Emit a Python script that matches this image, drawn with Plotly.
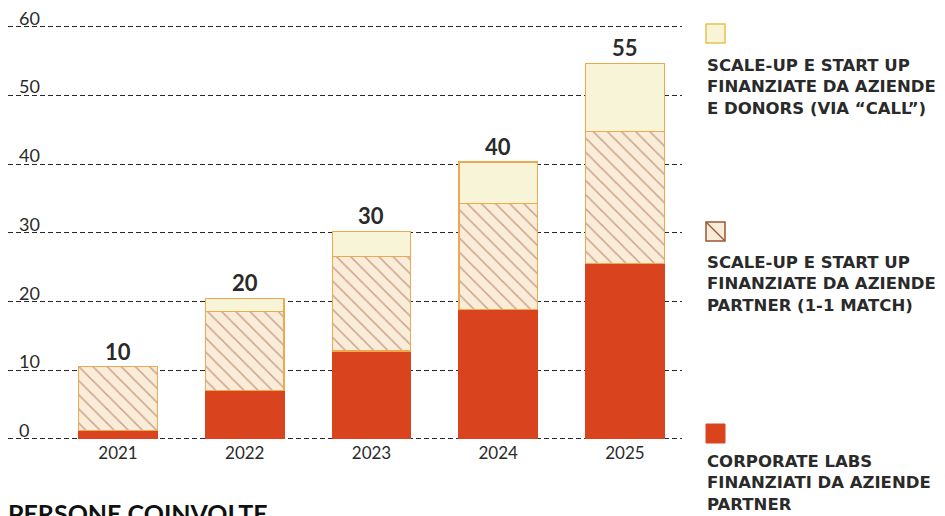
import plotly.graph_objects as go

years = ["2021", "2022", "2023", "2024", "2025"]
corporate_labs = [1.2, 7.0, 12.8, 18.8, 25.5]
match_1_1 = [9.3, 11.5, 13.8, 15.5, 19.3]
via_call = [0.0, 2.0, 3.6, 6.0, 9.9]
total_labels = ["10", "20", "30", "40", "55"]
y_ticks = [0, 10, 20, 30, 40, 50, 60]

legend_texts = [
    "SCALE-UP E START UP<br>FINANZIATE DA AZIENDE<br>E DONORS (VIA “CALL”)",
    "SCALE-UP E START UP<br>FINANZIATE DA AZIENDE<br>PARTNER (1-1 MATCH)",
    "CORPORATE LABS<br>FINANZIATI DA AZIENDE<br>PARTNER",
]
title_text = "PERSONE COINVOLTE"

RED = "#d9441f"
CREAM = "#f8f4d8"
HATCH_BG = "#f9ecd8"
HATCH_FG = "#9c5535"
OUTLINE = "#eea850"
TXT = "#2a2a2a"
FONT = "Lato"
LEG_FONT = "DejaVu Sans"

OFF = 8  # page body margin
W, H = 930, 508
ml, mr, mt, mb = 0, W - (682 - OFF), 5, 75

fig = go.Figure()
fig.add_bar(x=years, y=corporate_labs, name="corporate",
            marker=dict(color=RED, line=dict(color=RED, width=1)))
fig.add_bar(x=years, y=match_1_1, name="match",
            marker=dict(color=HATCH_BG, line=dict(color=OUTLINE, width=1.2),
                        pattern=dict(shape="\\", fgcolor=HATCH_FG, bgcolor=HATCH_BG,
                                     size=10, solidity=0.15, fillmode="overlay")))
fig.add_bar(x=years, y=via_call, name="call",
            marker=dict(color=CREAM, line=dict(color=OUTLINE, width=1.2)))

totals = [a + b + c for a, b, c in zip(corporate_labs, match_1_1, via_call)]
for i, (t, lab) in enumerate(zip(totals, total_labels)):
    fig.add_annotation(x=i, y=t, text=f"<b>{lab}</b>", showarrow=False,
                       yanchor="bottom", yshift=0,
                       font=dict(family=FONT, size=22, color=TXT))

for v in y_ticks:
    fig.add_annotation(xref="paper", x=(17 - OFF) / (W - ml - mr), y=v, text=str(v),
                       showarrow=False, xanchor="left", yanchor="bottom", yshift=-4,
                       font=dict(family=FONT, size=18, color=TXT))


def px_x(p):
    return (p - OFF - ml) / (W - ml - mr)


def px_y(p):
    return 1 - (p - OFF - mt) / (H - mt - mb)


sw = [(24, 43), (222, 241), (424, 443)]
fig.add_shape(type="rect", xref="paper", yref="paper",
              x0=px_x(706), x1=px_x(725), y0=px_y(sw[0][1]), y1=px_y(sw[0][0]),
              fillcolor=CREAM, line=dict(color="#e8c050", width=1.5))
fig.add_shape(type="rect", xref="paper", yref="paper",
              x0=px_x(706), x1=px_x(725), y0=px_y(sw[1][1]), y1=px_y(sw[1][0]),
              fillcolor=HATCH_BG, line=dict(color=HATCH_FG, width=1.5))
fig.add_shape(type="line", xref="paper", yref="paper",
              x0=px_x(706), x1=px_x(725), y0=px_y(sw[1][0]), y1=px_y(sw[1][1]),
              line=dict(color=HATCH_FG, width=1.2))
fig.add_shape(type="rect", xref="paper", yref="paper",
              x0=px_x(706), x1=px_x(725), y0=px_y(sw[2][1]), y1=px_y(sw[2][0]),
              fillcolor=RED, line=dict(color=RED, width=1))

for txt, yc in zip(legend_texts, [87, 284, 483]):
    fig.add_annotation(xref="paper", yref="paper", x=px_x(705), y=px_y(yc),
                       text=f"<b>{txt}</b>", showarrow=False, align="left",
                       xanchor="left", yanchor="middle",
                       font=dict(family=LEG_FONT, size=16.5, color=TXT))

fig.add_annotation(xref="paper", yref="paper", x=px_x(6), y=px_y(496),
                   text=f"<b>{title_text}</b>", showarrow=False,
                   xanchor="left", yanchor="top",
                   font=dict(family=FONT, size=25, color="#111111", weight=900))

fig.update_layout(
    width=W, height=H, barmode="stack", bargap=0.38, showlegend=False,
    plot_bgcolor="white", paper_bgcolor="white",
    margin=dict(l=ml, r=mr, t=mt, b=mb),
    xaxis=dict(range=[-0.868, 4.45], showgrid=False, zeroline=False, showline=False,
               ticks="", tickfont=dict(family=FONT, size=17, color=TXT)),
    yaxis=dict(range=[-0.3, 62], tickvals=y_ticks, showticklabels=False,
               showgrid=True, gridcolor="#2a2a2a", griddash="5px,3px", gridwidth=1.4,
               zeroline=False, showline=False),
)

fig.write_html("out.html")
